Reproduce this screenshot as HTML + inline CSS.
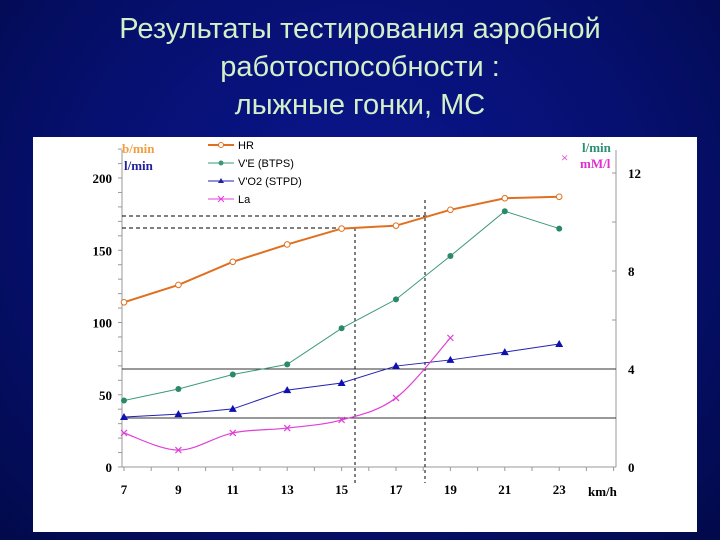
<!DOCTYPE html>
<html><head><meta charset="utf-8"><style>
html,body{margin:0;padding:0}
body{width:720px;height:540px;overflow:hidden;background:radial-gradient(ellipse at 50% 40%,#0c1690 0%,#061070 55%,#020a4a 100%);font-family:"Liberation Sans",sans-serif;position:relative}
#title{position:absolute;left:0;top:10px;width:720px;text-align:center;color:#d4f0c8;font-size:29px;line-height:38px}
#panel{position:absolute;left:33px;top:137px;width:664px;height:395px;background:#fff}
svg{position:absolute;left:0;top:0}
</style></head><body>
<div id="title">Результаты тестирования аэробной<br>работоспособности :<br>лыжные гонки, МС</div>
<div id="panel"></div>
<svg id="chart" width="720" height="540"></svg>
<script>
const speeds=[7,9,11,13,15,17,19,21,23];
const hr=[114,126,142,154,165,167,178,186,187];
const ve=[46,54,64,71,96,116,146,177,165];
const vo2=[2.04,2.16,2.37,3.14,3.43,4.12,4.37,4.69,5.02];
const laSpeeds=[7,9,11,13,15,17,19];
const la=[1.39,0.69,1.39,1.59,1.92,2.82,5.27];
const leftTicks=[0,50,100,150,200];
const rightTicks=[0,4,8,12];
const xTicks=[7,9,11,13,15,17,19,21,23];
const NS='http://www.w3.org/2000/svg';
const svg=document.getElementById('chart');
const X=v=>124+(v-7)*27.2;
const YL=v=>467-v*1.445;
const YR=v=>467-v*24.5;
function mk(t,a){const e=document.createElementNS(NS,t);for(const k in a)e.setAttribute(k,a[k]);svg.appendChild(e);return e;}
function txt(x,y,s,a){const e=mk('text',Object.assign({x:x,y:y,'font-family':'Liberation Serif, serif','font-weight':'bold','font-size':13},a));e.textContent=s;return e;}
// axes
let e=mk('line',{x1:122,y1:150,x2:122,y2:467,stroke:'#999'});
e=mk('line',{x1:616,y1:150,x2:616,y2:467,stroke:'#999'});
e=mk('line',{x1:122,y1:467,x2:616,y2:467,stroke:'#999'});
for(let v=0;v<=220;v+=10){mk('line',{x1:118,y1:YL(v),x2:122,y2:YL(v),stroke:'#999'});}
leftTicks.forEach(v=>{const t=txt(112,YL(v)+5,String(v),{'text-anchor':'end'});});
for(let v=0;v<=12;v+=2){mk('line',{x1:612,y1:YR(v),x2:616,y2:YR(v),stroke:'#999'});}
rightTicks.forEach(v=>{const t=txt(628,YR(v)+5,String(v),{});});
for(let v=7;v<=25;v++){mk('line',{x1:X(v),y1:467,x2:X(v),y2:471,stroke:'#999'});}
xTicks.forEach(v=>{const t=txt(X(v),494,String(v),{'text-anchor':'middle'});});
e=txt(588,496,'km/h',{});
e=txt(122,153,'b/min',{fill:'#f0a040'});
e=txt(124,170,'l/min',{fill:'#2020a0'});
e=txt(582,152,'l/min',{fill:'#2a9070'});
e=txt(580,168,'mM/l',{fill:'#e030d0'});
e=txt(561,162,'×',{fill:'#e030d0','font-weight':'normal'});
// reference lines
e=mk('line',{x1:122,y1:YR(4),x2:616,y2:YR(4),stroke:'#333'});
e=mk('line',{x1:122,y1:YR(2),x2:616,y2:YR(2),stroke:'#333'});
e=mk('line',{x1:122,y1:216,x2:430,y2:216,stroke:'#000','stroke-dasharray':'4,3'});
e=mk('line',{x1:122,y1:228,x2:360,y2:228,stroke:'#000','stroke-dasharray':'4,3'});
e=mk('line',{x1:355,y1:228,x2:355,y2:483,stroke:'#000','stroke-dasharray':'3,3'});
e=mk('line',{x1:425,y1:200,x2:425,y2:483,stroke:'#000','stroke-dasharray':'3,3'});
// series
function poly(xs,ys,col,w,name){const p=mk('polyline',{points:xs.map((x,i)=>X(x)+','+ys[i]).join(' '),fill:'none',stroke:col,'stroke-width':w});}
poly(speeds,ve.map(YL),'#3a9a78',1,'ve-line');
speeds.forEach((s,i)=>{const c=mk('circle',{cx:X(s),cy:YL(ve[i]),r:3,fill:'#2a8a68'});});
poly(speeds,vo2.map(YR),'#2020b0',1,'vo2-line');
speeds.forEach((s,i)=>{const x=X(s),y=YR(vo2[i]);const t=mk('polygon',{points:`${x},${y-4} ${x-4},${y+3} ${x+4},${y+3}`,fill:'#1010b0'});});
// La smooth curve
(function(){const pts=laSpeeds.map((s,i)=>[X(s),YR(la[i])]);let d='M'+pts[0][0]+','+pts[0][1];
for(let i=0;i<pts.length-1;i++){const p0=pts[Math.max(0,i-1)],p1=pts[i],p2=pts[i+1],p3=pts[Math.min(pts.length-1,i+2)];
d+=` C${p1[0]+(p2[0]-p0[0])/6},${p1[1]+(p2[1]-p0[1])/6} ${p2[0]-(p3[0]-p1[0])/6},${p2[1]-(p3[1]-p1[1])/6} ${p2[0]},${p2[1]}`;}
const p=mk('path',{d:d,fill:'none',stroke:'#e040d8','stroke-width':1.2});
pts.forEach(q=>{const m=mk('path',{d:`M${q[0]-3},${q[1]-3}L${q[0]+3},${q[1]+3}M${q[0]-3},${q[1]+3}L${q[0]+3},${q[1]-3}`,stroke:'#e040d8','stroke-width':1.2});});})();
poly(speeds,hr.map(YL),'#e07020',2,'hr-line');
speeds.forEach((s,i)=>{const c=mk('circle',{cx:X(s),cy:YL(hr[i]),r:2.8,fill:'#fff',stroke:'#e07020'});});
// legend
const leg=[['HR','#e07020','o'],["V'E (BTPS)",'#3a9a78','d'],["V'O2 (STPD)",'#2020b0','t'],['La','#e040d8','x']];
leg.forEach((l,i)=>{const y=145+i*18;const g=mk('g',{});
mk('line',{x1:208,y1:y,x2:234,y2:y,stroke:l[1],'stroke-width':l[2]=='o'?2:1});
if(l[2]=='o')mk('circle',{cx:221,cy:y,r:2.5,fill:'#fff',stroke:l[1]});
if(l[2]=='d')mk('circle',{cx:221,cy:y,r:2.5,fill:l[1]});
if(l[2]=='t')mk('polygon',{points:`221,${y-3} 218,${y+2} 224,${y+2}`,fill:l[1]});
if(l[2]=='x')mk('path',{d:`M218,${y-3}L224,${y+3}M218,${y+3}L224,${y-3}`,stroke:l[1]});
const t=mk('text',{x:238,y:y+4,'font-family':'Liberation Sans, sans-serif','font-size':11});t.textContent=l[0];});
</script>
</body></html>
